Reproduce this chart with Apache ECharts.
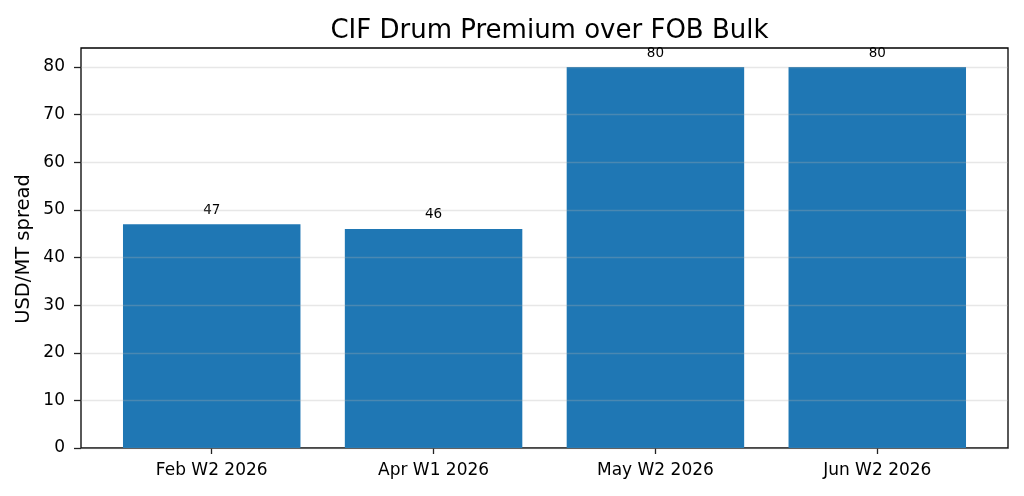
<!DOCTYPE html>
<html>
<head>
<meta charset="utf-8">
<script src="https://cdn.jsdelivr.net/npm/echarts@6/dist/echarts.min.js"></script>
<style>
html, body { margin: 0; padding: 0; background: #fff; }
#main { width: 1024px; height: 496px; }
</style>
</head>
<body>
<div id="main"></div>
<script>
var categories = ['Feb W2 2026', 'Apr W1 2026', 'May W2 2026', 'Jun W2 2026'];
var spreadValues = [47, 46, 80, 80];
var yMin = 0, yMax = 80, yStep = 10;   // tick labels 0..80
var yLimit = 84;                        // top of plot frame

var FONT = 'DejaVu Sans';
var myChart = echarts.init(document.getElementById('main'));

// plot frame: top 48, bottom 448 -> 400px for 0..84
var frameTop = 48, frameBottom = 48;
var pxPerUnit = 400 / yLimit;
var tickGridTop = frameTop + (yLimit - yMax) * pxPerUnit;

var option = {
    animation: false,
    backgroundColor: '#fff',
    title: {
        text: 'CIF Drum Premium over FOB Bulk',
        left: 544.5,
        top: 13,
        textAlign: 'center',
        textStyle: { fontFamily: FONT, fontSize: 26, fontWeight: 'normal', color: '#000' }
    },
    graphic: [{
        type: 'text',
        x: 24,
        y: 249,
        rotation: Math.PI / 2,
        style: {
            text: 'USD/MT spread',
            font: '19.5px "DejaVu Sans"',
            fill: '#000',
            textAlign: 'center',
            textVerticalAlign: 'middle'
        }
    }],
    grid: [
        // frame
        { left: 81, right: 16, top: frameTop, bottom: frameBottom, show: true, borderColor: '#000', borderWidth: 1.3, backgroundColor: 'transparent' },
        // bars
        { left: 100.8, right: 35.8, top: frameTop, bottom: frameBottom },
        // y ticks / gridlines 0..80
        { left: 81, right: 16, top: tickGridTop, bottom: frameBottom }
    ],
    xAxis: [
        { gridIndex: 0, type: 'value', show: false, min: 0, max: 1 },
        {
            gridIndex: 1,
            type: 'category',
            data: categories,
            axisLine: { show: false },
            axisTick: { show: true, alignWithLabel: true, length: 6, lineStyle: { color: '#222', width: 1.3 } },
            axisLabel: { margin: 14, fontFamily: FONT, fontSize: 17, color: '#000' }
        },
        { gridIndex: 2, type: 'value', show: false, min: 0, max: 1 }
    ],
    yAxis: [
        { gridIndex: 0, type: 'value', show: false, min: 0, max: 1 },
        { gridIndex: 1, type: 'value', min: 0, max: yLimit, show: false, splitLine: { show: false } },
        {
            gridIndex: 2,
            type: 'value',
            min: yMin,
            max: yMax,
            interval: yStep,
            z: 5,
            axisLine: { show: false },
            axisTick: { show: true, length: 7, lineStyle: { color: '#222', width: 1.3 } },
            axisLabel: { margin: 16, fontFamily: FONT, fontSize: 17, color: '#000' },
            splitLine: { show: true, lineStyle: { color: 'rgba(176,176,176,0.3)', width: 1.3 } }
        }
    ],
    series: [{
        type: 'bar',
        xAxisIndex: 1,
        yAxisIndex: 1,
        data: spreadValues,
        barWidth: '80%',
        itemStyle: { color: '#1f77b4' },
        label: {
            show: true,
            position: 'top',
            distance: 7,
            fontFamily: FONT,
            fontSize: 13.5,
            color: '#000'
        }
    }]
};

myChart.setOption(option);
</script>
</body>
</html>
